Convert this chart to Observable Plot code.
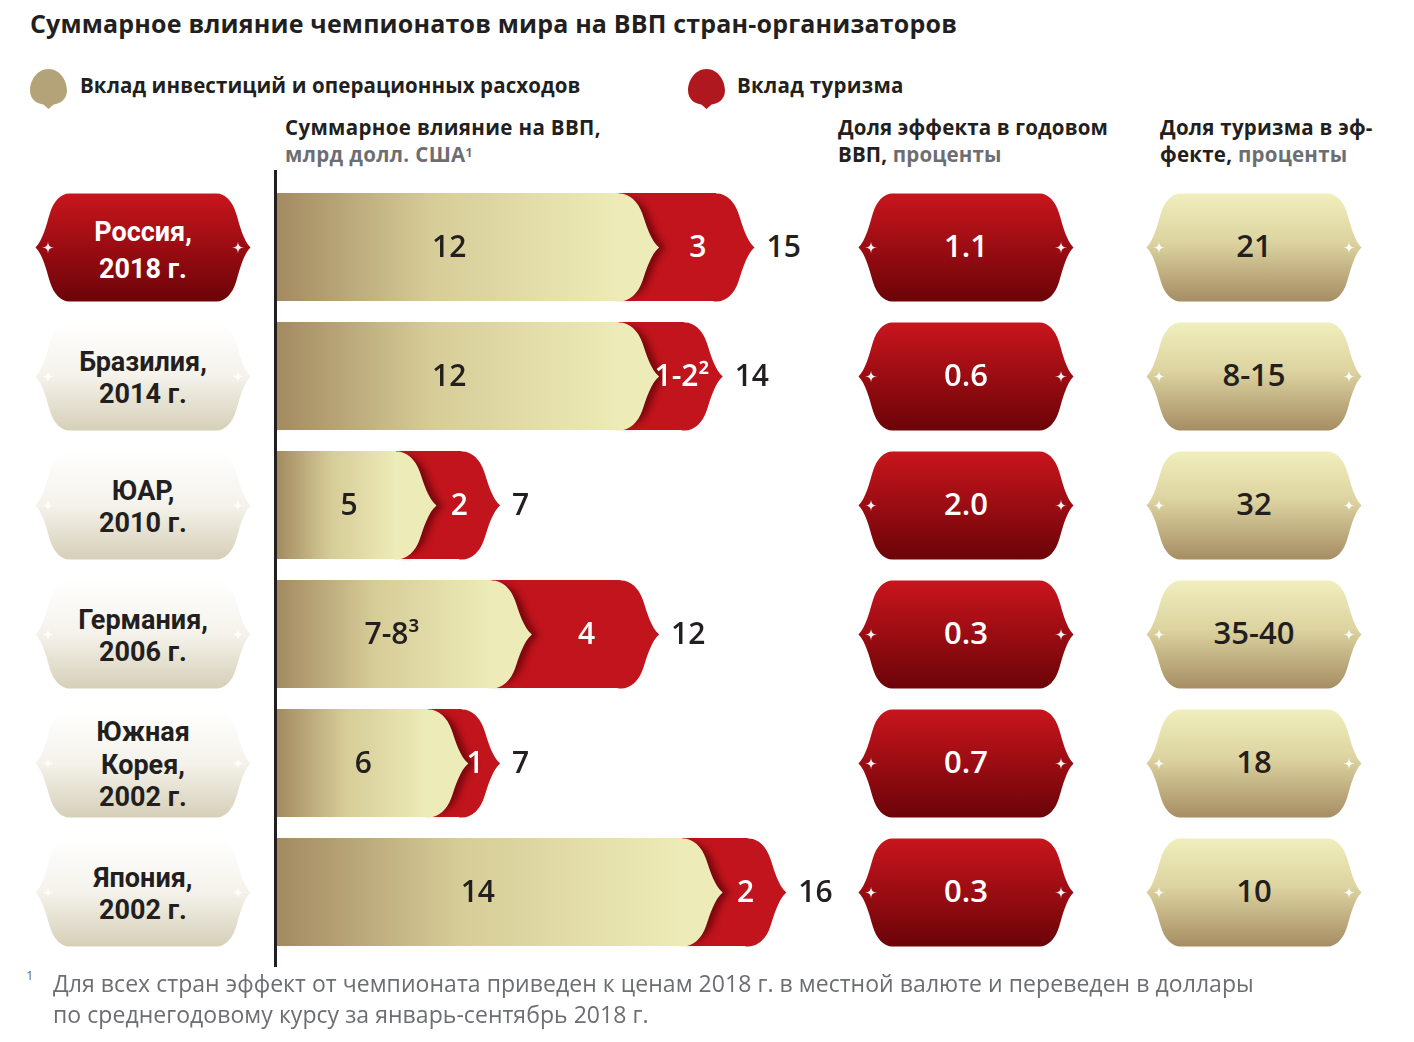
<!DOCTYPE html>
<html><head><meta charset="utf-8">
<script src="https://cdn.jsdelivr.net/npm/d3@7"></script>
<script src="https://cdn.jsdelivr.net/npm/@observablehq/plot@0.6"></script>
<style>
body{margin:0;background:#fff;}
#wrap{position:relative;width:1414px;height:1042px;font-family:"Open Sans",sans-serif;color:#231f20;overflow:hidden;background:#fff;}
.abs{position:absolute;white-space:nowrap;}
#title{left:30px;top:6px;font-size:25px;font-weight:700;line-height:34px;letter-spacing:0.18px;}
.leg{top:70px;font-size:20.5px;font-weight:700;line-height:30px;letter-spacing:0.1px;}
.hdr{top:114px;font-size:20.5px;font-weight:700;line-height:27px;letter-spacing:0.35px;}
.gray{color:#6d6e71;}
.sup{font-size:12px;vertical-align:top;position:relative;top:-2px;}
#fn{left:53px;top:968px;font-size:23px;line-height:31px;color:#6d6e71;letter-spacing:0.05px;}
#fnmark{left:26px;top:966px;font-size:13px;color:#6d6e71;}
#chart{left:0;top:165px;}
</style></head>
<body>
<div id="wrap">
  <div id="title" class="abs">Суммарное влияние чемпионатов мира на ВВП стран-организаторов</div>
  <svg class="abs" style="left:30px;top:69px" width="37" height="40" viewBox="0 0 36 39"><path d="M18,0 C29,0 36,11 36,21 C36,30 29,34 23,34.5 L18,39 L13,34.5 C7,34 0,30 0,21 C0,11 7,0 18,0 Z" fill="#b4a379"/></svg>
  <div class="abs leg" style="left:80px">Вклад инвестиций и операционных расходов</div>
  <svg class="abs" style="left:688px;top:69px" width="37" height="40" viewBox="0 0 36 39"><path d="M18,0 C29,0 36,11 36,21 C36,30 29,34 23,34.5 L18,39 L13,34.5 C7,34 0,30 0,21 C0,11 7,0 18,0 Z" fill="#b0181f"/></svg>
  <div class="abs leg" style="left:737px;letter-spacing:0.3px">Вклад туризма</div>
  <div class="abs hdr" style="left:285px">Суммарное влияние на ВВП,<br><span class="gray">млрд долл. США<span class="sup">1</span></span></div>
  <div class="abs hdr" style="left:838px;letter-spacing:0.15px">Доля эффекта в годовом<br>ВВП, <span class="gray">проценты</span></div>
  <div class="abs hdr" style="left:1160px;letter-spacing:0.25px">Доля туризма в эф-<br>фекте, <span class="gray">проценты</span></div>
  <div id="chart" class="abs"></div>
  <div id="fnmark" class="abs">1</div>
  <div id="fn" class="abs">Для всех стран эффект от чемпионата приведен к ценам 2018 г. в местной валюте и переведен в доллары<br>по среднегодовому курсу за январь-сентябрь 2018 г.</div>
</div>
<script>
// ---- data ----
const hosts = ["Россия", "Бразилия", "ЮАР", "Германия", "Южная Корея", "Япония"];
const years = ["2018", "2014", "2010", "2006", "2002", "2002"];
const investValues = [12, 12, 5, 8, 6, 14];
const investLabels = ["12", "12", "5", "7-8³", "6", "14"];
const tourismValues = [3, 2, 2, 4, 1, 2];
const tourismLabels = ["3", "1-2²", "2", "4", "1", "2"];
const totalLabels = ["15", "14", "7", "12", "7", "16"];
const gdpShareLabels = ["1.1", "0.6", "2.0", "0.3", "0.7", "0.3"];
const tourismShareLabels = ["21", "8-15", "32", "35-40", "18", "10"];
const hostCountry = "Россия";

const rows = hosts.map((h, i) => ({
  host: h,
  label: h.replace(" ", "\n") + ",\n" + years[i] + " г.",
  invest: investValues[i],
  tourism: tourismValues[i],
  total: investValues[i] + tourismValues[i],
  investLabel: investLabels[i],
  tourismLabel: tourismLabels[i],
  totalLabel: totalLabels[i],
  gdpShare: gdpShareLabels[i],
  tourismShare: tourismShareLabels[i]
}));

// ---- shapes ----
const HB = 54;
function rightTip(ctx, x0, D, h) {
  const kx = D / 38, ky = h / 54;
  const P = (dx, dy) => [x0 + dx * kx, dy * ky];
  ctx.bezierCurveTo(...P(-28, -54), ...P(-20, -46), ...P(-16, -34));
  ctx.bezierCurveTo(...P(-12, -22), ...P(-8, -7), ...P(0, 0));
  ctx.bezierCurveTo(...P(-8, 7), ...P(-12, 22), ...P(-16, 34));
  ctx.bezierCurveTo(...P(-20, 46), ...P(-28, 54), ...P(-38, 54));
}
function leftTip(ctx, x0, D, h) {
  const kx = D / 38, ky = h / 54;
  const P = (dx, dy) => [x0 - dx * kx, dy * ky];
  ctx.bezierCurveTo(...P(-28, 54), ...P(-20, 46), ...P(-16, 34));
  ctx.bezierCurveTo(...P(-12, 22), ...P(-8, 7), ...P(0, 0));
  ctx.bezierCurveTo(...P(-8, -7), ...P(-12, -22), ...P(-16, -34));
  ctx.bezierCurveTo(...P(-20, -46), ...P(-28, -54), ...P(-38, -54));
}
const tipSymbol = (D, h) => ({draw(ctx) {
  ctx.moveTo(-D - 3, -h); ctx.lineTo(-D, -h); rightTip(ctx, 0, D, h);
  ctx.lineTo(-D - 3, h); ctx.closePath();
}});
const badgeSymbol = (W, D, h) => ({draw(ctx) {
  ctx.moveTo(-W + D, -h); ctx.lineTo(W - D, -h); rightTip(ctx, W, D, h);
  ctx.lineTo(-W + D, h); leftTip(ctx, -W, D, h); ctx.closePath();
}});
const starSymbol = {draw(ctx) {
  const s = 6;
  ctx.moveTo(0, -s); ctx.quadraticCurveTo(0, 0, s, 0); ctx.quadraticCurveTo(0, 0, 0, s);
  ctx.quadraticCurveTo(0, 0, -s, 0); ctx.quadraticCurveTo(0, 0, 0, -s); ctx.closePath();
}};

const RED_TIP = 38, GOLD_TIP = 40;
const badge = badgeSymbol(107.5, 34, HB);

function defs() {
  const d = d3.create("svg:defs");
  const grad = (id, vertical, stops) => {
    const g = d.append("linearGradient").attr("id", id)
      .attr("x1", 0).attr("y1", 0).attr("x2", vertical ? 0 : 1).attr("y2", vertical ? 1 : 0);
    stops.forEach(([o, c]) => g.append("stop").attr("offset", o).attr("stop-color", c));
  };
  grad("goldH", false, [[0, "#a38a60"], [0.45, "#d6cc98"], [1, "#edebb7"]]);
  grad("redV", true, [[0, "#c9151d"], [1, "#6b0408"]]);
  grad("goldV", true, [[0, "#f0efbd"], [0.45, "#dcd3a0"], [1, "#a68d63"]]);
  grad("paleV", true, [[0, "#ffffff"], [0.5, "#f4f2ea"], [1, "#d6cfb8"]]);
  return d.node();
}

const font = "Open Sans";
const labelFont = "Roboto";
const LEFT_X = 142.5, MID_X = 965.5, RIGHT_X = 1253.5;
const hostRows = rows.filter(d => d.host === hostCountry);
const otherRows = rows.filter(d => d.host !== hostCountry);

const chart = Plot.plot({
  width: 1414,
  height: 805,
  margin: 0,
  style: {background: "transparent", fontFamily: font},
  x: {domain: [0, 17], range: [277, 277 + 17 * 31.8], axis: null},
  y: {domain: hosts, range: [5.8, 802.2], padding: 0.164, axis: null},
  marks: [
    defs,
    // tourism (red) part, drawn as the full total behind the investment part
    Plot.barX(rows, {y: "host", x1: 0, x2: "total", insetRight: RED_TIP, fill: "#c1141c"}),
    Plot.dot(rows, {y: "host", x: "total", symbol: tipSymbol(RED_TIP, HB), fill: "#c1141c", stroke: "none"}),
    Plot.dot(rows, {y: "host", x: "invest", dx: 7, symbol: tipSymbol(GOLD_TIP, HB - 4), fill: "#6e050a", fillOpacity: 0.85, stroke: "none"}),
    // investment (gold) part
    Plot.barX(rows, {y: "host", x1: 0, x2: "invest", insetRight: GOLD_TIP, fill: "url(#goldH)"}),
    Plot.dot(rows, {y: "host", x: "invest", symbol: tipSymbol(GOLD_TIP, HB), fill: "#edebb7", stroke: "none"}),
    Plot.ruleX([0], {dx: -2, stroke: "#231f20", strokeWidth: 3, insetTop: 5, insetBottom: 3}),
    // badges
    Plot.dot(hostRows, {y: "host", frameAnchor: "left", dx: LEFT_X, symbol: badge, fill: "url(#redV)", stroke: "none"}),
    Plot.dot(otherRows, {y: "host", frameAnchor: "left", dx: LEFT_X, symbol: badge, fill: "url(#paleV)", stroke: "none"}),
    Plot.dot(rows, {y: "host", frameAnchor: "left", dx: MID_X, symbol: badge, fill: "url(#redV)", stroke: "none"}),
    Plot.dot(rows, {y: "host", frameAnchor: "left", dx: RIGHT_X, symbol: badge, fill: "url(#goldV)", stroke: "none"}),
    ...[LEFT_X, MID_X, RIGHT_X].flatMap(cx => [
      Plot.dot(rows, {y: "host", frameAnchor: "left", dx: cx - 95, symbol: starSymbol, fill: "#fff", stroke: "none", fillOpacity: 0.95}),
      Plot.dot(rows, {y: "host", frameAnchor: "left", dx: cx + 95, symbol: starSymbol, fill: "#fff", stroke: "none", fillOpacity: 0.95})
    ]),
    // bar labels
    Plot.text(rows, {y: "host", x: d => d.invest * 0.45, text: "investLabel", fill: "#231f20", fontSize: 30, fontWeight: 600, fontFamily: font}),
    Plot.text(rows, {y: "host", x: d => (d.invest + d.total) / 2, dx: -9, text: "tourismLabel", fill: "#fff", fontSize: 30, fontWeight: 600, fontFamily: font}),
    Plot.text(rows, {y: "host", x: "total", dx: 12, textAnchor: "start", text: "totalLabel", fill: "#231f20", fontSize: 30, fontWeight: 600, fontFamily: font}),
    // badge labels
    Plot.text(hostRows, {y: "host", frameAnchor: "left", dx: LEFT_X, textAnchor: "middle", text: "label", lineHeight: 1.37, fill: "#fff", fontSize: 27, fontWeight: 700, fontFamily: labelFont}),
    Plot.text(otherRows, {y: "host", frameAnchor: "left", dx: LEFT_X, textAnchor: "middle", text: "label", lineHeight: 1.2, fill: "#231f20", fontSize: 27, fontWeight: 700, fontFamily: labelFont}),
    Plot.text(rows, {y: "host", frameAnchor: "left", dx: MID_X, textAnchor: "middle", text: "gdpShare", fill: "#fff", fontSize: 31, fontWeight: 600, fontFamily: font}),
    Plot.text(rows, {y: "host", frameAnchor: "left", dx: RIGHT_X, textAnchor: "middle", text: "tourismShare", fill: "#231f20", fontSize: 31, fontWeight: 600, fontFamily: font})
  ]
});
d3.select(chart).selectAll('g[fill="#6e050a"]').style("filter", "blur(3px)");
document.getElementById("chart").appendChild(chart);
</script>
</body></html>
